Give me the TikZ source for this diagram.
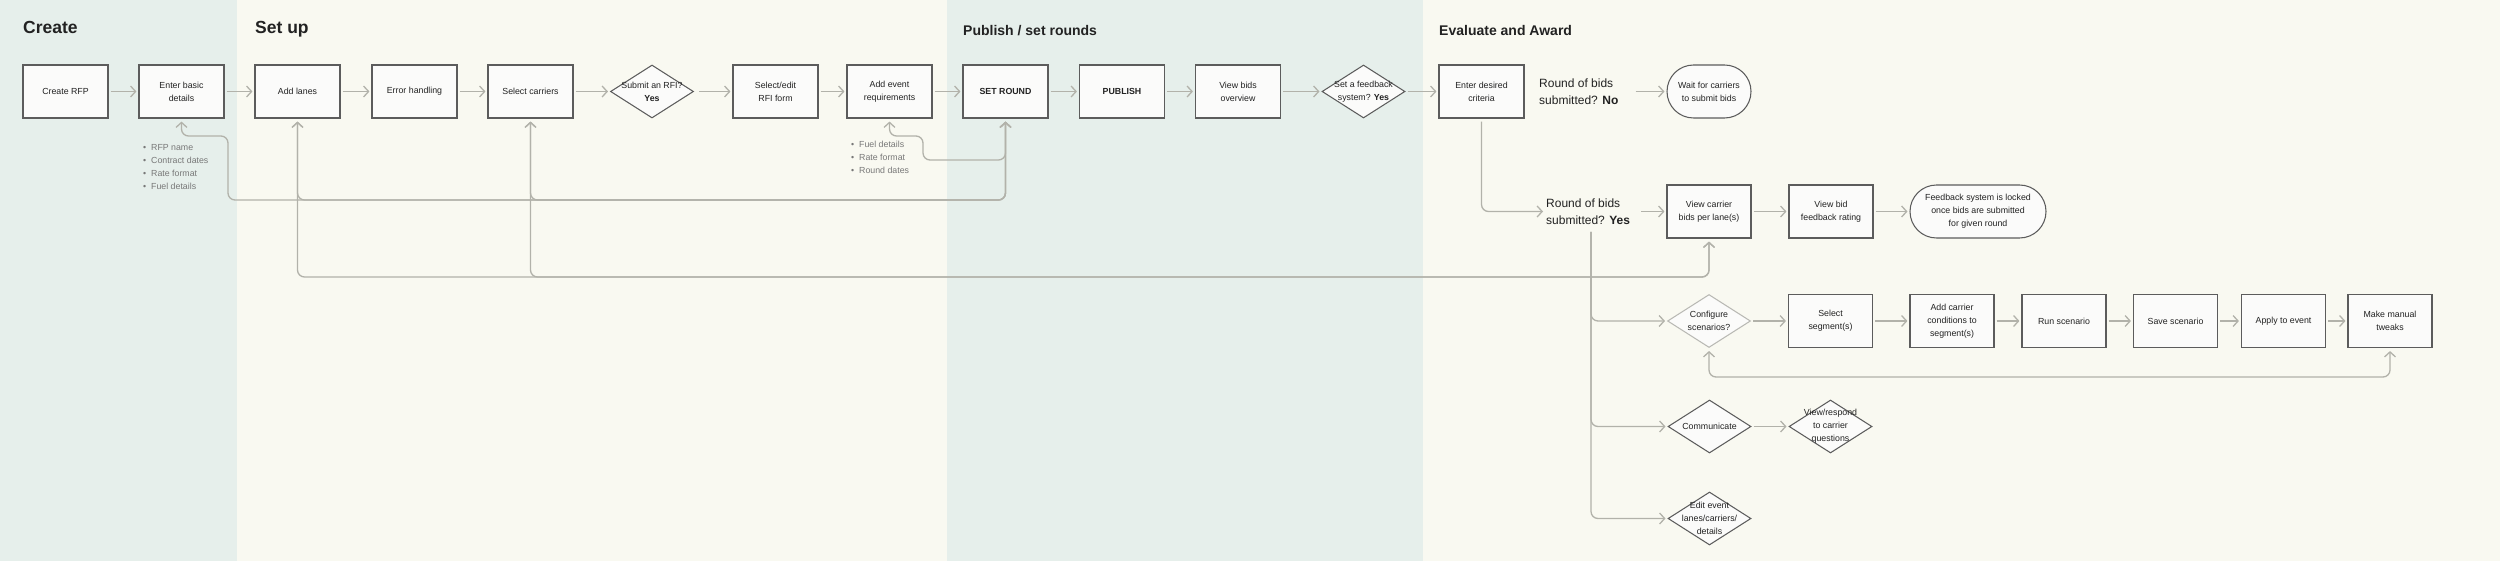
\documentclass[tikz,border=0pt]{standalone}
\usepackage{fontspec}
\setmainfont{Liberation Sans}
\usetikzlibrary{arrows.meta,shapes.geometric,shapes.misc}
\definecolor{mint}{RGB}{230,239,235}
\definecolor{cream}{RGB}{249,249,241}
\definecolor{edge}{RGB}{92,92,92}
\definecolor{lightedge}{RGB}{185,185,180}
\definecolor{lnk}{RGB}{178,178,170}
\definecolor{ink}{RGB}{34,34,34}
\definecolor{note}{RGB}{120,120,120}
\definecolor{boxfill}{RGB}{251,251,250}
\begin{document}
\begin{tikzpicture}[x=1pt,y=-1pt,
  nodefont/.style={font=\fontsize{8.8}{13}\selectfont},
  box/.style={draw=edge, line width=1.15pt, fill=boxfill, minimum width=85pt, minimum height=53pt, inner sep=0pt, align=center, nodefont, text=ink},
  dia/.style={draw=edge, line width=1.05pt, fill=boxfill, diamond, minimum width=83pt, minimum height=53pt, inner sep=0pt},
  stad/.style={draw=edge, line width=1.05pt, fill=boxfill, rounded rectangle, minimum width=84pt, minimum height=53pt, inner sep=0pt, align=center, nodefont, text=ink},
  dtext/.style={align=center, nodefont, text=ink, inner sep=0pt},
  bigtitle/.style={anchor=base west, inner sep=0pt, font=\fontsize{17.5}{20}\selectfont\bfseries, text=ink},
  midtitle/.style={anchor=base west, inner sep=0pt, font=\fontsize{14}{17}\selectfont\bfseries, text=ink},
  qtext/.style={anchor=west, inner sep=0pt, align=left, font=\fontsize{12}{17}\selectfont, text=ink},
  notes/.style={anchor=west, inner sep=0pt, align=left, font=\fontsize{8.8}{13}\selectfont, text=note},
  flow/.style={draw=lnk, line width=1.3pt, -{Straight Barb[length=5pt,width=11pt]}, shorten <=2pt, shorten >=2pt},
  elbow/.style={flow, rounded corners=7pt},
  loopback/.style={draw=lnk, line width=1.3pt, {Straight Barb[length=5pt,width=11pt]}-{Straight Barb[length=5pt,width=11pt]}, rounded corners=7pt, shorten <=3pt, shorten >=3pt}
]
\useasboundingbox (0,0) rectangle (2500,561);
% backgrounds
\fill[mint] (0,0) rectangle (237,561);
\fill[cream] (237,0) rectangle (947,561);
\fill[mint] (947,0) rectangle (1423,561);
\fill[cream] (1423,0) rectangle (2500,561);

% titles
\node[bigtitle] (t1) at (23,34) {Create};
\node[bigtitle] (t2) at (255,34) {Set up};
\node[midtitle] (t3) at (963,36) {Publish / set rounds};
\node[midtitle] (t4) at (1439,36) {Evaluate and Award};

% helper coordinates for connector rows
\coordinate (r136) at (0,136);
\coordinate (r160) at (0,160);
\coordinate (r200) at (0,200);
\coordinate (r277) at (0,277);
\coordinate (r377) at (0,377);
\coordinate (c228) at (228,0);
\coordinate (c923) at (923,0);

% top row
\node[box] (create) at (65.5,91.5) {Create RFP};
\node[box] (basic) at (181.5,91.5) {Enter basic\\details};
\node[box] (lanes) at (297.5,91.5) {Add lanes};
\node[box] (errh) at (414.5,91.5) {Error handling};
\node[box] (carriers) at (530.5,91.5) {Select carriers};
\node[dia, label={[dtext]center:{Submit an RFI?\\\textbf{Yes}}}] (rfi) at (652,91.5) {};
\node[box] (rfiform) at (775.5,91.5) {Select/edit\\RFI form};
\node[box] (event) at (889.5,91.5) {Add event\\requirements};
\node[box] (setround) at (1005.5,91.5) {\textbf{SET ROUND}};
\node[box] (publish) at (1122,91.5) {\textbf{PUBLISH}};
\node[box] (overview) at (1238,91.5) {View bids\\overview};
\node[dia, label={[dtext]center:{Set a feedback\\system? \textbf{Yes}}}] (fb) at (1363.5,91.5) {};
\node[box] (criteria) at (1481.5,91.5) {Enter desired\\criteria};
\node[qtext] (no) at (1539,91.5) {Round of bids\\submitted? \textbf{No}};
\node[stad] (wait) at (1709,91.5) {Wait for carriers\\to submit bids};

% notes
\node[notes] (n1) at (143,167.5) {\textbullet\ \ RFP name\\\textbullet\ \ Contract dates\\\textbullet\ \ Rate format\\\textbullet\ \ Fuel details};
\node[notes] (n2) at (851,157.3) {\textbullet\ \ Fuel details\\\textbullet\ \ Rate format\\\textbullet\ \ Round dates};

% row 2
\node[qtext] (yes) at (1546,211.5) {Round of bids\\submitted? \textbf{Yes}};
\node[box, minimum width=84pt] (viewcarrier) at (1709,211.5) {View carrier\\bids per lane(s)};
\node[box, minimum width=84pt] (viewbid) at (1831,211.5) {View bid\\feedback rating};
\node[stad, minimum width=136pt] (locked) at (1978,211.5) {Feedback system is locked\\once bids are submitted\\for given round};

% row 3
\node[dia, draw=lightedge, label={[dtext]center:{Configure\\scenarios?}}] (configure) at (1709,321) {};
\node[box, minimum width=84pt] (segment) at (1830.5,321) {Select\\segment(s)};
\node[box, minimum width=84pt] (conditions) at (1952,321) {Add carrier\\conditions to\\segment(s)};
\node[box, minimum width=84pt] (run) at (2064,321) {Run scenario};
\node[box, minimum width=84pt] (save) at (2175.5,321) {Save scenario};
\node[box, minimum width=84pt] (apply) at (2283.5,321) {Apply to event};
\node[box, minimum width=84pt] (tweaks) at (2390,321) {Make manual\\tweaks};

% rows 4 and 5
\node[dia, label={[dtext]center:{Communicate}}] (communicate) at (1709.5,426.5) {};
\node[dia, label={[dtext]center:{View/respond\\to carrier\\questions}}] (respond) at (1830.5,426.5) {};
\node[dia, label={[dtext]center:{Edit event\\lanes/carriers/\\details}}] (edit) at (1709.5,518.5) {};
\coordinate (vt) at (1591,232);

% main flow
\draw[flow] (create) -- (basic);
\draw[flow] (basic) -- (lanes);
\draw[flow] (lanes) -- (errh);
\draw[flow] (errh) -- (carriers);
\draw[flow] (carriers) -- (rfi);
\draw[flow, shorten <=5pt] (rfi) -- (rfiform);
\draw[flow] (rfiform) -- (event);
\draw[flow] (event) -- (setround);
\draw[flow] (setround) -- (publish);
\draw[flow] (publish) -- (overview);
\draw[flow] (overview) -- (fb);
\draw[flow] (fb) -- (criteria);
\draw[flow] ([xshift=15pt]no.east) -- (wait.west);
\draw[elbow, shorten <=3pt, shorten >=3pt] (criteria.south) |- (yes.west);
\draw[flow] ([xshift=9pt]yes.east) -- (viewcarrier.west);
\draw[flow] (viewcarrier) -- (viewbid);
\draw[flow] (viewbid) -- (locked);
\draw[flow] (configure) -- (segment);
\draw[flow] (segment) -- (conditions);
\draw[flow] (conditions) -- (run);
\draw[flow] (run) -- (save);
\draw[flow] (save) -- (apply);
\draw[flow] (apply) -- (tweaks);
\draw[flow] (communicate) -- (respond);
\draw[elbow, shorten <=0pt] (vt) |- (configure.west);
\draw[elbow, shorten <=0pt] (vt) |- (communicate.west);
\draw[elbow, shorten <=0pt] (vt) |- (edit.west);

% loop-backs
\draw[loopback] (basic.south) -- (basic.south |- r136) -- (c228 |- r136) -- (c228 |- r200) -- (setround.south |- r200) -- (setround.south);
\draw[loopback] (lanes.south) -- (lanes.south |- r200) -- (setround.south |- r200) -- (setround.south);
\draw[loopback] (carriers.south) -- (carriers.south |- r200) -- (setround.south |- r200) -- (setround.south);
\draw[loopback] (lanes.south) -- (lanes.south |- r277) -- (viewcarrier.south |- r277) -- (viewcarrier.south);
\draw[loopback] (carriers.south) -- (carriers.south |- r277) -- (viewcarrier.south |- r277) -- (viewcarrier.south);
\draw[loopback] (event.south) -- (event.south |- r136) -- (c923 |- r136) -- (c923 |- r160) -- (setround.south |- r160) -- (setround.south);
\draw[loopback] (configure.south) -- (configure.south |- r377) -- (tweaks.south |- r377) -- (tweaks.south);
\end{tikzpicture}
\end{document}
